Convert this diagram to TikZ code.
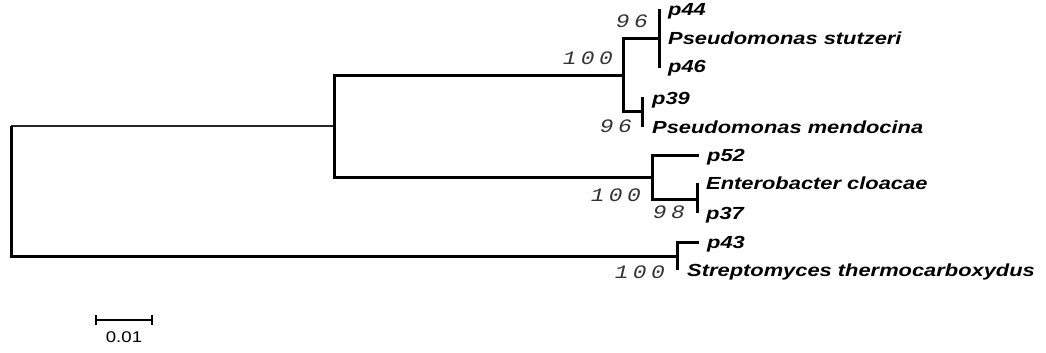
\documentclass[tikz,border=0pt]{standalone}
\usepackage{fontspec}
\setmainfont{Liberation Sans}
\newfontfamily\labfont[FakeStretch=1.25]{Liberation Sans}
\newfontfamily\bsfont[FakeStretch=1.2]{Liberation Mono}
\newfontfamily\scfont[FakeStretch=1.2]{Liberation Sans}
\newcommand\gp{\kern4.5pt}
\begin{document}
\begin{tikzpicture}[x=1pt,y=-1pt,
  branch/.style={line width=3pt, line join=miter},
  thinbranch/.style={line width=2.2pt, black!85},
  taxon/.style={anchor=base west, inner sep=0pt, font=\labfont\fontsize{17.5}{20}\selectfont\bfseries\itshape},
  boot/.style={anchor=base east, inner sep=0pt, text=black!80, font=\bsfont\fontsize{19}{21}\selectfont\itshape},
  scalelab/.style={anchor=base, inner sep=0pt, font=\scfont\fontsize{15.5}{17}\selectfont},
  scalebar/.style={line width=1.1pt}]
\useasboundingbox (0,0) rectangle (1046,353);
% internal node coordinates
\coordinate (r1) at (11,126);
\coordinate (r2) at (11,256);
\coordinate (a) at (334,126);
\coordinate (a1) at (334,75);
\coordinate (a2) at (334,177);
\coordinate (b) at (623,75);
\coordinate (b1) at (623,39);
\coordinate (b2) at (623,111);
\coordinate (c) at (659,39);
\coordinate (c1) at (659,9);
\coordinate (c2) at (659,68);
\coordinate (d) at (642,111);
\coordinate (d1) at (642,97);
\coordinate (d2) at (642,127);
\coordinate (e) at (652,177);
\coordinate (e1) at (652,155);
\coordinate (e2) at (652,199);
\coordinate (f) at (697,199);
\coordinate (f1) at (697,183);
\coordinate (f2) at (697,213);
\coordinate (g) at (677,256);
\coordinate (g1) at (677,242);
\coordinate (g2) at (677,270);
\coordinate (t52) at (699,155);
\coordinate (t43) at (699,242);
% branches
\draw[thinbranch] (r1) -- (a);
\draw[branch] (r1) -- (r2) -- (g);
\draw[branch] (b) -- (a1) -- (a2) -- (e);
\draw[branch] (c) -- (b1) -- (b2) -- (d);
\draw[branch] (c1) -- (c2);
\draw[branch] (d1) -- (d2);
\draw[branch] (t52) -- (e1) -- (e2) -- (f);
\draw[branch] (f1) -- (f2);
\draw[branch] (t43) -- (g1) -- (g2);
% taxa
\node[taxon] (p44) at (668,16) {p44};
\node[taxon] (pstu) at (668,45) {Pseudomonas stutzeri};
\node[taxon] (p46) at (668,73) {p46};
\node[taxon] (p39) at (652,104) {p39};
\node[taxon] (pmen) at (652,133) {Pseudomonas mendocina};
\node[taxon] (p52) at (707,161) {p52};
\node[taxon] (ecl) at (706,189) {Enterobacter cloacae};
\node[taxon] (p37) at (706,219) {p37};
\node[taxon] (p43) at (707,248) {p43};
\node[taxon] (sth) at (687,276) {Streptomyces thermocarboxydus};
% bootstrap values
\node[boot] (bs1) at (648,28) {9\gp6};
\node[boot] (bs2) at (613,65) {1\gp0\gp0};
\node[boot] (bs3) at (632,132) {9\gp6};
\node[boot] (bs4) at (641,201) {1\gp0\gp0};
\node[boot] (bs5) at (685,218) {9\gp8};
\node[boot] (bs6) at (665,278) {1\gp0\gp0};
% scale bar
\coordinate (s1) at (96,320);
\coordinate (s2) at (152,320);
\coordinate (s1t) at (96,315);
\coordinate (s1b) at (96,325);
\coordinate (s2t) at (152,315);
\coordinate (s2b) at (152,325);
\draw[scalebar] (s1) -- (s2);
\draw[scalebar] (s1t) -- (s1b);
\draw[scalebar] (s2t) -- (s2b);
\node[scalelab] (slab) at (124,342) {0.01};
\end{tikzpicture}
\end{document}
